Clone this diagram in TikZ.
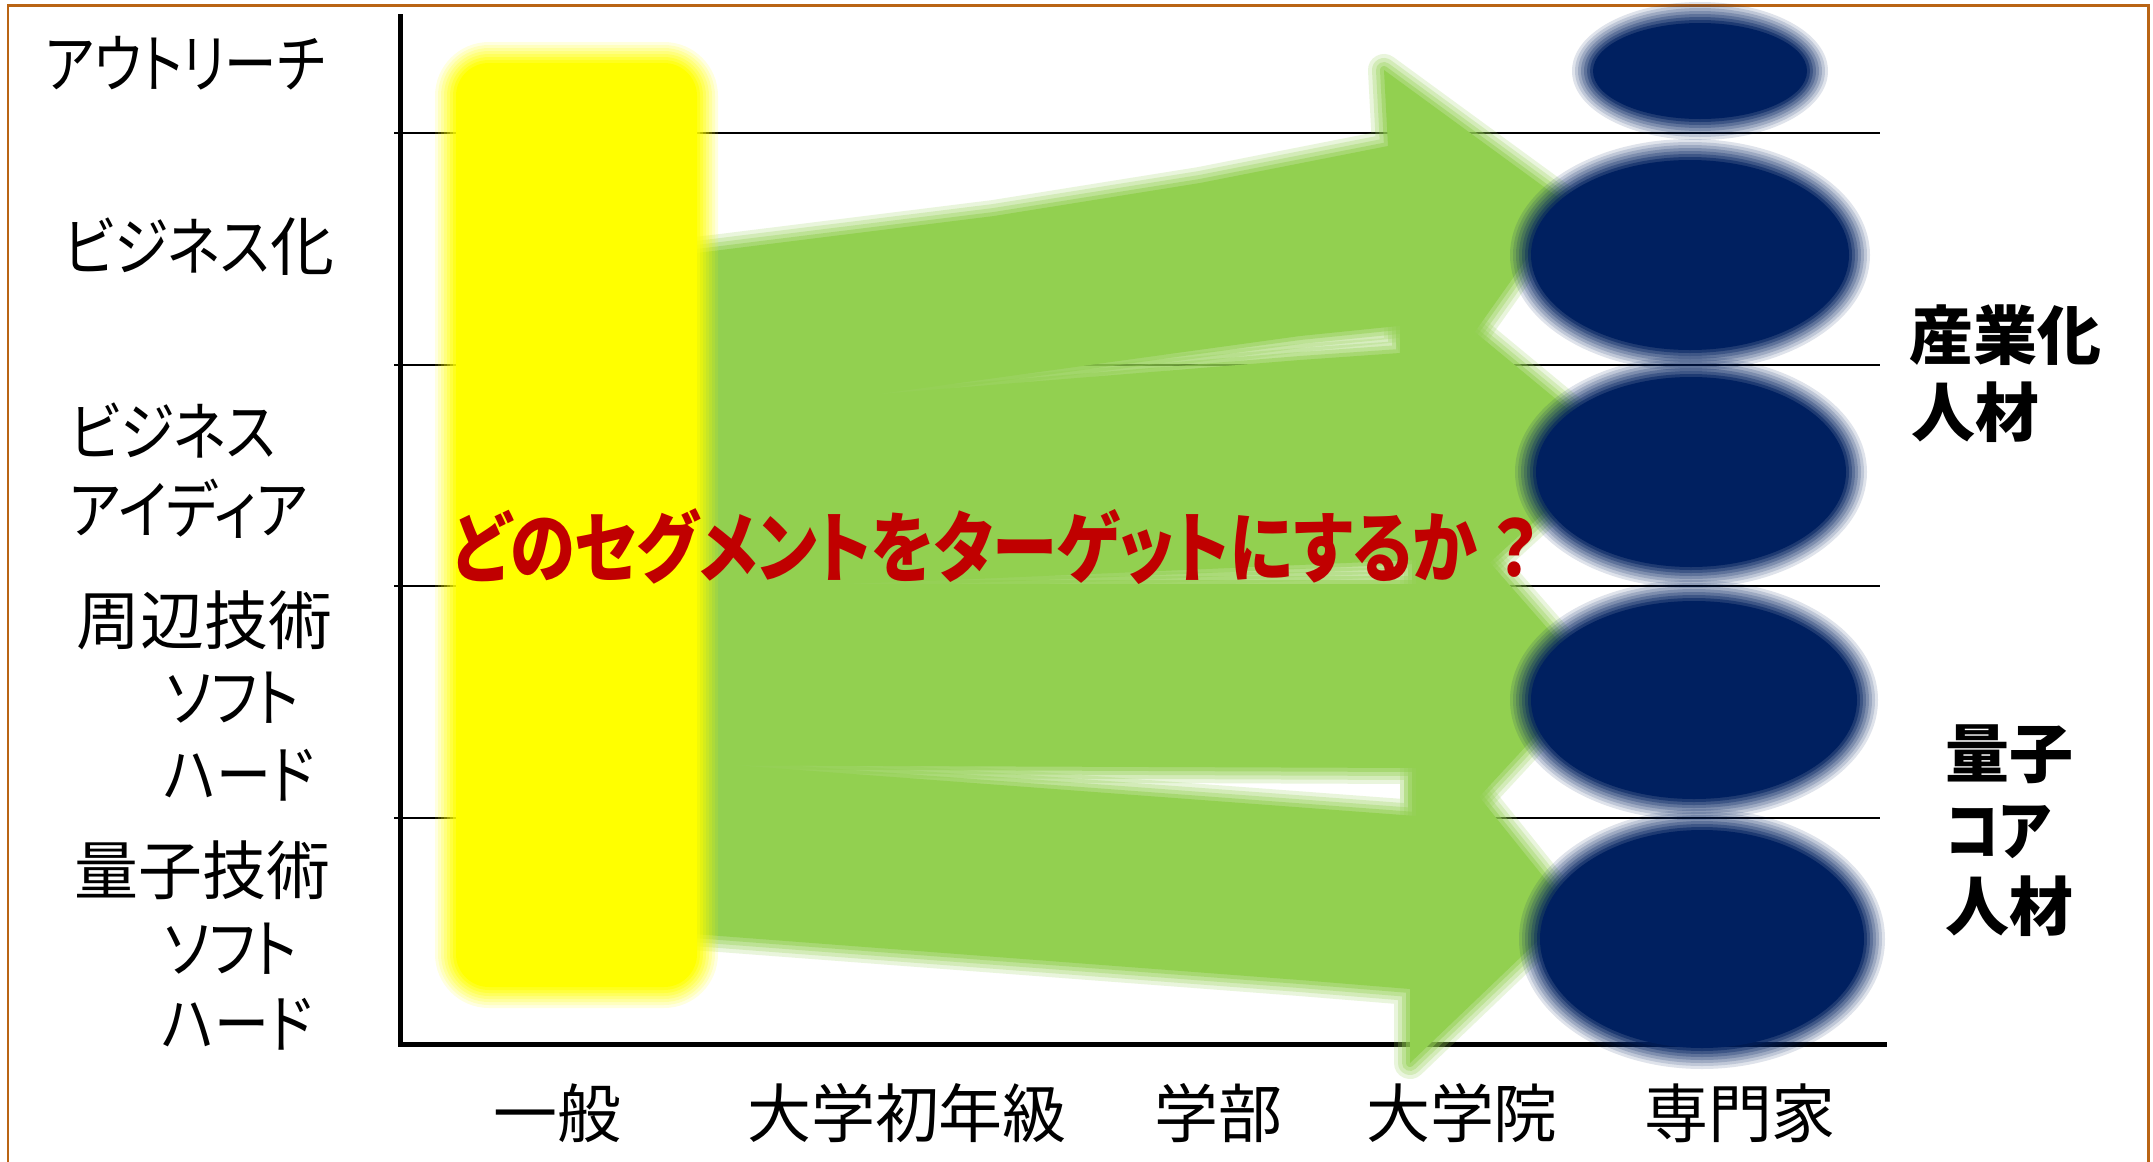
\documentclass[tikz,border=0pt]{standalone}
\usepackage{graphicx}
\usepackage{fontspec}
\setmainfont{Noto Sans CJK JP}[RawFeature=+palt]
\newcommand\kn[1]{\scalebox{0.86}[1]{#1}}
\definecolor{framecol}{RGB}{185,100,20}
\definecolor{agreen}{RGB}{146,208,80}
\definecolor{navy}{RGB}{0,32,96}
\definecolor{qred}{RGB}{192,0,0}
\definecolor{pureyellow}{RGB}{255,255,0}
% soft-edged ellipse: x, y, x radius, y radius
\newcommand\softell[4]{%
  \foreach \dd/\aa in {12/0.125,9/0.1429,6/0.1667,3/0.2,0/0.25,-3/0.3333,-6/0.5,-9/1}
    \fill[navy, opacity=\aa] (#1,#2) ellipse [x radius={#3+\dd}, y radius={#4+\dd}];
}
\tikzset{
  soft/.style={fill=#1,
    preaction={draw=#1, line width=3.2mm, opacity=0.2, line join=round},
    preaction={draw=#1, line width=2.4mm, opacity=0.25, line join=round},
    preaction={draw=#1, line width=1.6mm, opacity=0.333, line join=round},
    preaction={draw=#1, line width=0.8mm, opacity=0.5, line join=round}},
  frameline/.style={draw=framecol, line width=0.3mm},
  gridrule/.style={draw=black, line width=0.22mm},
  axisrule/.style={draw=black, line width=0.5mm},
  lab/.style={inner sep=0pt, anchor=west, font=\fontsize{18.2pt}{22pt}\selectfont,
    text height=16pt, text depth=2.2pt},
  blab/.style={lab, font=\fontsize{18.2pt}{22pt}\selectfont\bfseries},
  xlab/.style={lab, anchor=center},
  qlab/.style={inner sep=0pt, anchor=west, text=qred,
    font=\fontsize{22pt}{26pt}\selectfont\bfseries, text height=19.4pt, text depth=2.6pt}
}
\begin{document}
\begin{tikzpicture}[x=0.1mm, y=-0.1mm]
\useasboundingbox (0,0) rectangle (2153,1162);
\fill[white] (0,0) rectangle (2153,1162);
% frame
\draw[frameline] (8,1162) -- (8,5) -- (2148,5) -- (2148,1162);
% grid lines
\foreach \yy in {133,365,586,818} \draw[gridrule] (394,\yy) -- (1880,\yy);
% axes
\coordinate (ytop) at (400,14);
\coordinate (origin) at (400,1044);
\coordinate (xend) at (1887,1044);
\draw[axisrule] (ytop) -- (origin) -- (xend);
% green arrows
\fill[soft=agreen] (620,262) -- (713,251) -- (994,216) -- (1200,183) -- (1388,146) -- (1384,70)
  -- (1566,203) -- (1428,398) -- (1408,325) -- (1300,336) -- (879,394) -- (620,429) -- cycle;
\fill[soft=agreen] (620,416) -- (879,394) -- (1300,360) -- (1400,353) -- (1400,270) -- (1615,448)
  -- (1416,630) -- (1416,560) -- (950,580) -- (620,592) -- cycle;
\fill[soft=agreen] (620,584) -- (1416,584) -- (1416,478) -- (1590,677) -- (1416,865)
  -- (1416,768) -- (620,765) -- cycle;
\fill[soft=agreen] (620,759) -- (719,764) -- (1416,816) -- (1416,718) -- (1570,910) -- (1410,1063)
  -- (1410,989) -- (1300,980) -- (707,935) -- (620,929) -- cycle;
% navy ellipses
\softell{1700}{71}{116}{57}
\softell{1690}{255}{168}{104}
\softell{1691}{472}{164}{104}
\softell{1694}{700}{172}{108}
\softell{1702}{939}{171}{118}
% yellow box with soft edge
\foreach \dd/\aa in {12/0.125,9/0.1429,6/0.1667,3/0.2,0/0.25,-3/0.3333,-6/0.5,-9/1}{
  \pgfmathsetmacro\rr{(42+\dd)/10}
  \fill[pureyellow, opacity=\aa, rounded corners=\rr mm] (447-\dd,54-\dd) rectangle (706+\dd,996+\dd);
}
% left labels
\node[lab] (outreach) at (45,63) {\scalebox{0.82}[1]{アウトリーチ}};
\node[lab] (bizka) at (63,246) {\kn{ビジネス}化};
\node[lab] (biz) at (69,431) {\kn{ビジネス}};
\node[lab] (idea) at (69,509) {\kn{アイディア}};
\node[lab] (shuhen) at (76,620) {周辺技術};
\node[lab] (soft1) at (165,697) {\kn{ソフト}};
\node[lab] (hard1) at (163,774) {\kn{ハード}};
\node[lab] (ryoshi) at (74,870) {量子技術};
\node[lab] (soft2) at (163,948) {\kn{ソフト}};
\node[lab] (hard2) at (161,1023) {\kn{ハード}};
% bottom labels
\node[xlab] (ippan) at (557,1113) {一般};
\node[xlab] (shonen) at (907,1113) {大学初年級};
\node[xlab] (gakubu) at (1218,1113) {学部};
\node[xlab] (daigakuin) at (1462,1113) {大学院};
\node[xlab] (senmon) at (1740,1113) {専門家};
% right labels
\node[blab] (sangyo) at (1909,335) {産業化};
\node[blab] (jinzai1) at (1911,412) {人材};
\node[blab] (ryoshi2) at (1945,753) {量子};
\node[blab] (core) at (1945,830) {\kn{コア}};
\node[blab] (jinzai2) at (1945,906) {人材};
% question
\node[qlab] (question) at (451,547) {\scalebox{0.845}[1]{どのセグメントをターゲットにするか\hspace{0.25em}？}};
\end{tikzpicture}
\end{document}
